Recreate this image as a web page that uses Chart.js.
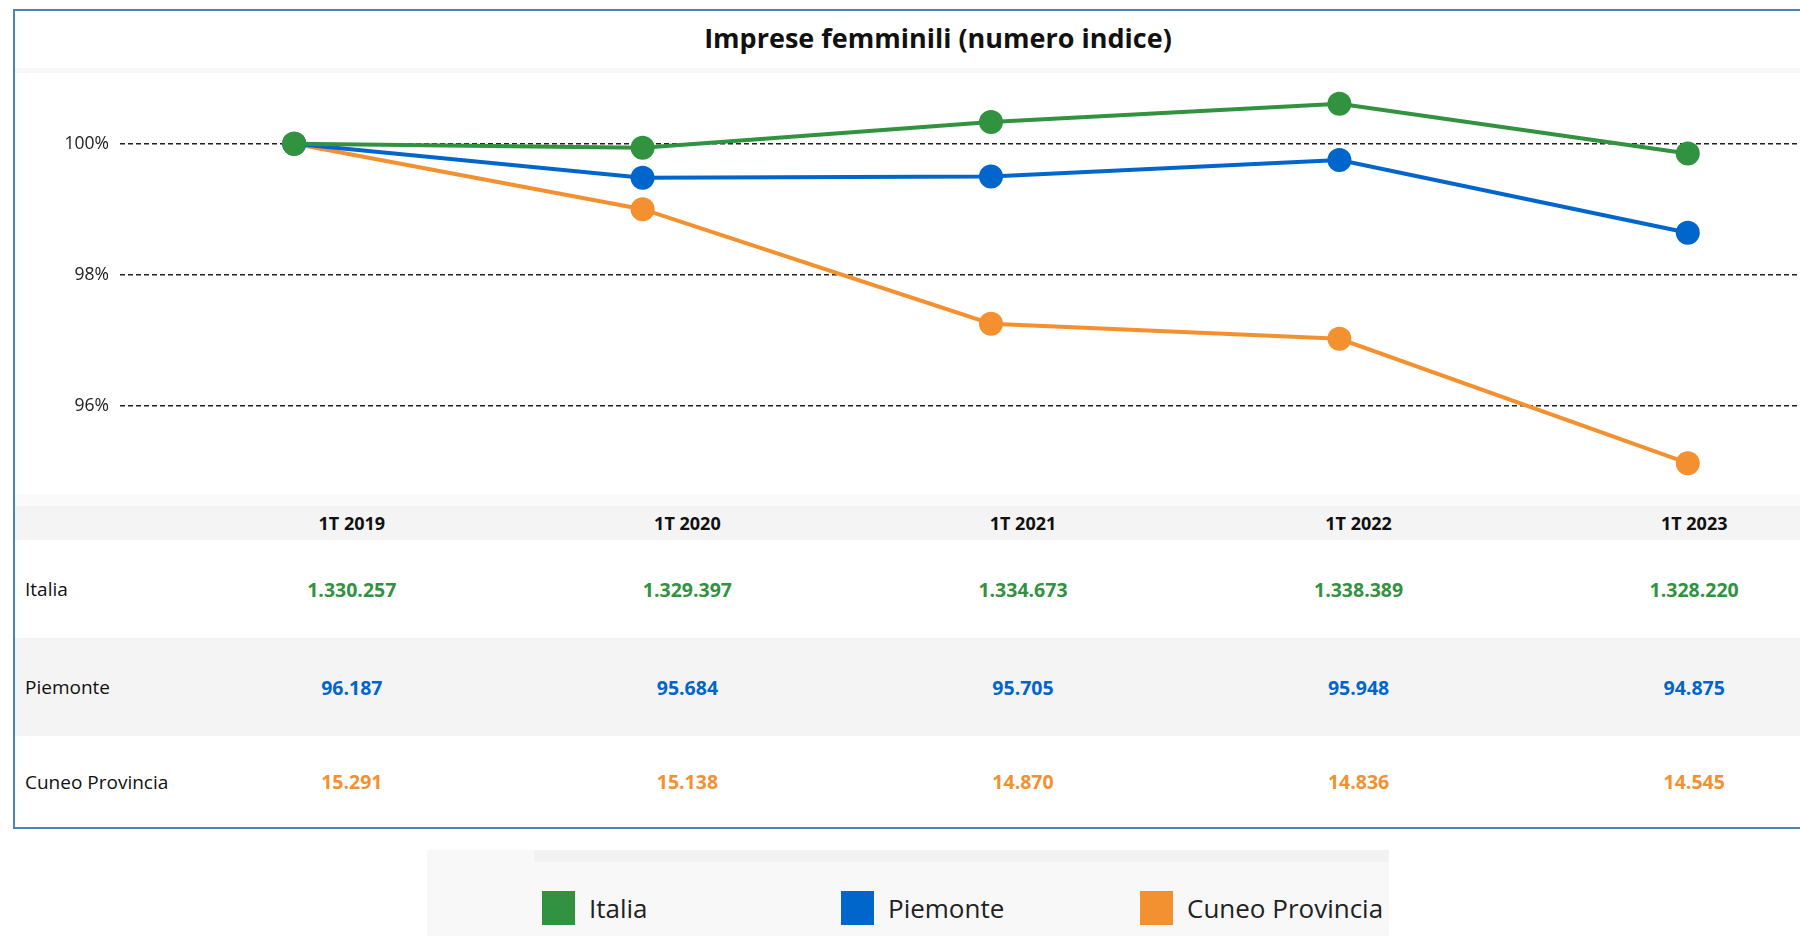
<!DOCTYPE html>
<html>
<head>
<meta charset="utf-8">
<script src="https://cdn.jsdelivr.net/npm/chart.js@4.4.1/dist/chart.umd.min.js"></script>
<style>
  html, body { margin: 0; padding: 0; width: 1800px; height: 936px; overflow: hidden; background: #fff; font-family: "Open Sans", sans-serif; }
  #box { position: absolute; left: 13px; top: 9px; width: 1850px; height: 820px; border: 2px solid #4f81bd; box-sizing: border-box; }
  #title { position: absolute; left: 14px; top: 19px; width: 1848px; text-align: center; font-size: 27px; font-weight: bold; color: #111; }
  #band { position: absolute; left: 15px; top: 68px; width: 1847px; height: 5px; background: #f7f7f7; }
  #wrap { position: absolute; left: 16px; top: 73px; width: 1846px; height: 421px; }
  #tbl { position: absolute; left: 15px; top: 494px; width: 1847px; border-collapse: collapse; table-layout: fixed; font-size: 19px; color: #111; }
  #tbl td { padding: 0; text-align: center; }
  #tbl td.lab { text-align: left; padding-left: 10px; }
  #tbl tr.sp td { height: 12px; background: #fafafa; }
  #tbl tr.hd td { height: 34px; background: #f4f4f4; font-weight: bold; font-size: 18px; }
  #tbl tr.row td.v { font-weight: bold; font-size: 19.5px; }
  #legend { position: absolute; left: 427px; top: 850px; width: 962px; height: 86px; background: #f8f8f8; }
  #legend .strip { position: absolute; left: 107px; top: 0; width: 855px; height: 12px; background: #f2f2f2; }
  #legend .item { position: absolute; top: 41px; height: 34px; display: flex; align-items: center; font-size: 26px; color: #222; }
  #legend .sw { width: 33px; height: 34px; margin-right: 14px; }
</style>
</head>
<body>
<div id="box"></div>
<div id="title">Imprese femminili (numero indice)</div>
<div id="band"></div>
<div id="wrap"><canvas id="lineChart"></canvas></div>
<table id="tbl"></table>
<div id="legend"><div class="strip"></div></div>

<script>
// periodi
var labels = ["1T 2019", "1T 2020", "1T 2021", "1T 2022", "1T 2023"];
var seriesNames = ["Italia", "Piemonte", "Cuneo Provincia"];
var colors = ["#31923f", "#0066cc", "#f39130"];

// numero di imprese (tabella)
var italiaCount = [1330257, 1329397, 1334673, 1338389, 1328220];
var piemonteCount = [96187, 95684, 95705, 95948, 94875];
var cuneoCount = [15291, 15138, 14870, 14836, 14545];

// numero indice (1T 2019 = 100)
var italiaIdx = [100, 99.94, 100.33, 100.61, 99.85];
var piemonteIdx = [100, 99.48, 99.50, 99.75, 98.64];
var cuneoIdx = [100, 99.00, 97.25, 97.02, 95.12];

var yTicks = [96, 98, 100];

var counts = [italiaCount, piemonteCount, cuneoCount];
var indexes = [italiaIdx, piemonteIdx, cuneoIdx];

function fmt(n) {
  return String(n).replace(/\B(?=(\d{3})+(?!\d))/g, ".");
}

var ctx = document.getElementById("lineChart").getContext("2d");
var myLineChart = new Chart(ctx, {
  type: "line",
  data: {
    labels: labels,
    datasets: seriesNames.map(function (name, i) {
      return {
        label: name,
        data: indexes[i],
        borderColor: colors[i],
        backgroundColor: colors[i],
        borderWidth: 4,
        pointRadius: 12,
        pointHoverRadius: 12,
        pointBorderWidth: 0,
        tension: 0
      };
    })
  },
  options: {
    responsive: true,
    maintainAspectRatio: false,
    animation: false,
    layout: { padding: 0, autoPadding: false },
    plugins: { legend: { display: false }, tooltip: { enabled: false } },
    scales: {
      x: {
        display: false,
        offset: true
      },
      y: {
        min: 94.65,
        max: 101.08,
        afterBuildTicks: function (axis) {
          axis.ticks = yTicks.map(function (v) { return { value: v }; });
        },
        afterFit: function (axis) {
          axis.width = 104;
          axis.paddingTop = 0;
          axis.paddingBottom = 0;
        },
        border: { display: false, dash: [5, 3] },
        grid: { color: "#222", lineWidth: 1.5, drawTicks: false },
        ticks: {
          padding: 11,
          color: "#222",
          font: { family: "Open Sans", size: 17.5 },
          callback: function (v) { return v + "%"; }
        }
      }
    }
  }
});

// tabella
var tbl = document.getElementById("tbl");
var html = '<colgroup><col style="width:169px">' + labels.map(function () { return '<col>'; }).join("") + '</colgroup>';
html += '<tr class="sp"><td></td>' + labels.map(function () { return '<td></td>'; }).join("") + '</tr>';
html += '<tr class="hd"><td></td>' + labels.map(function (l) { return '<td>' + l + '</td>'; }).join("") + '</tr>';
var rowH = [98, 98, 91];
var rowBg = ["#fff", "#f4f4f4", "#fff"];
seriesNames.forEach(function (name, i) {
  html += '<tr class="row" style="height:' + rowH[i] + 'px;background:' + rowBg[i] + '"><td class="lab">' + name + '</td>' +
    counts[i].map(function (c) { return '<td class="v" style="color:' + colors[i] + '">' + fmt(c) + '</td>'; }).join("") + '</tr>';
});
tbl.innerHTML = html;

// legenda
var legend = document.getElementById("legend");
var legX = [115, 414, 713];
seriesNames.forEach(function (name, i) {
  var it = document.createElement("div");
  it.className = "item";
  it.style.left = legX[i] + "px";
  it.innerHTML = '<div class="sw" style="background:' + colors[i] + '"></div>' + name;
  legend.appendChild(it);
});
</script>
</body>
</html>
